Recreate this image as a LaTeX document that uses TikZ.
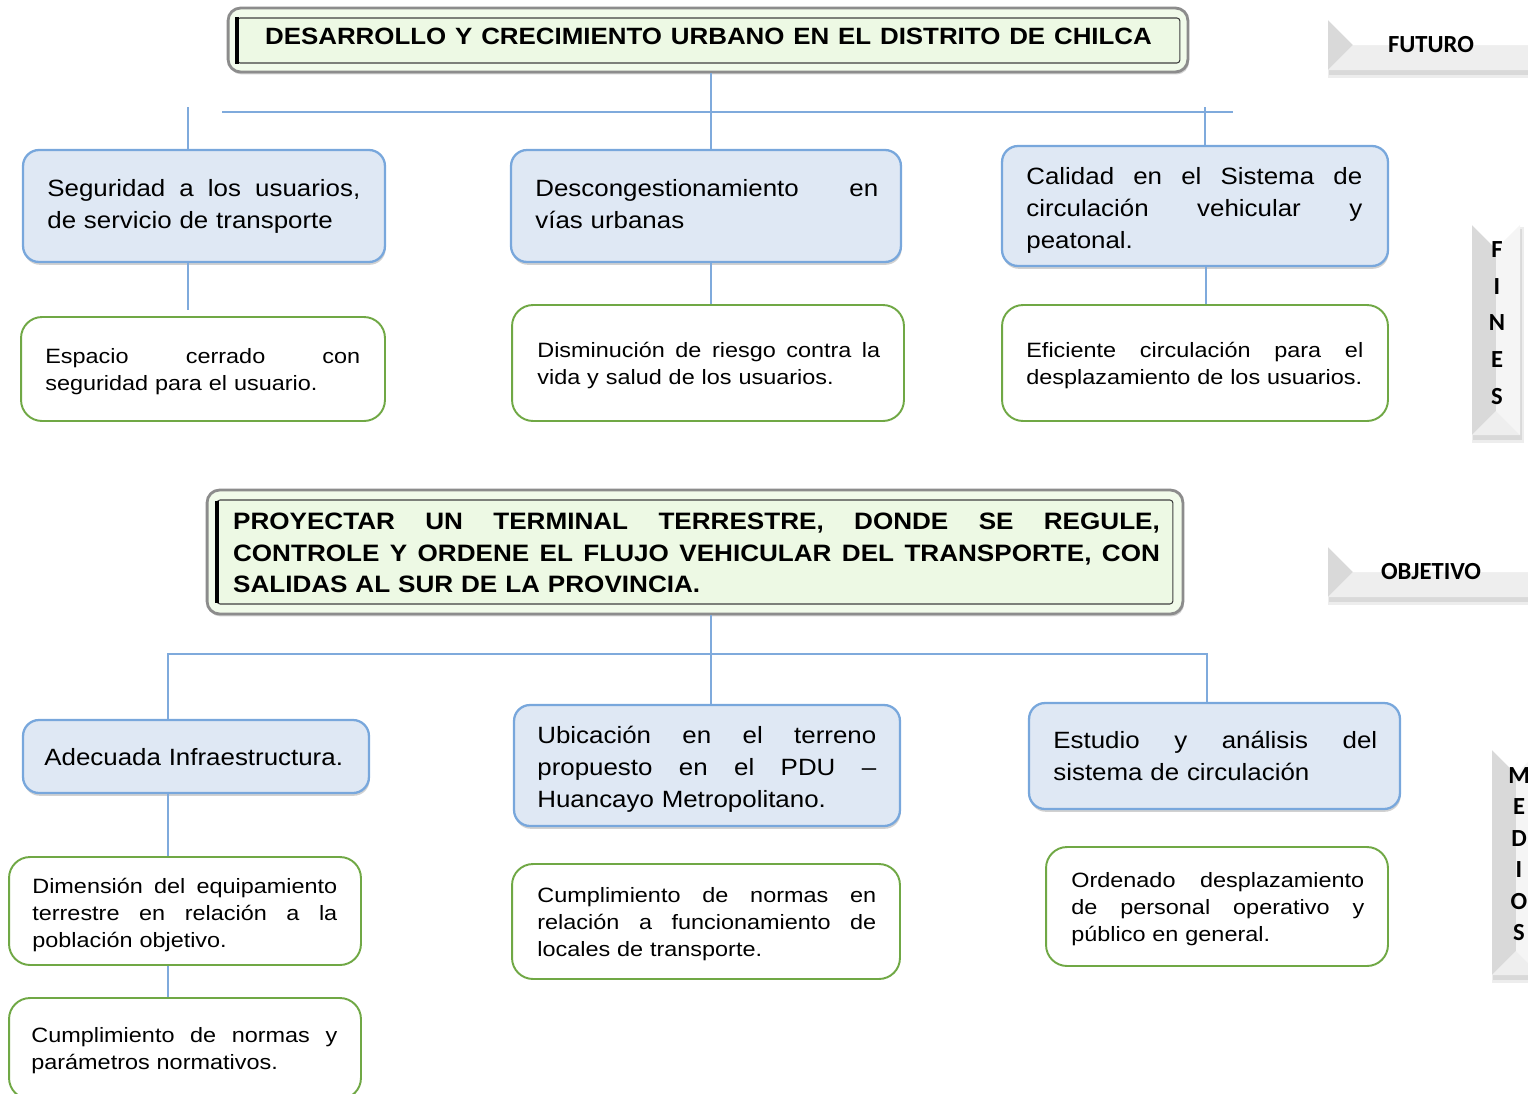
\documentclass[tikz,border=0pt]{standalone}
\usepackage{fontspec}
\setmainfont{Liberation Sans}[FakeStretch=1.1]
\newfontfamily\gfont{Liberation Sans}[FakeStretch=1.13]
\newfontfamily\sfont{Carlito}
\usetikzlibrary{shadows,calc}
\definecolor{connc}{HTML}{7FAADC}
\definecolor{bluefill}{HTML}{DFE8F4}
\definecolor{blueline}{HTML}{78A7DC}
\definecolor{greenline}{HTML}{70A845}
\definecolor{titlefill}{HTML}{F1FBEA}
\definecolor{titleinner}{HTML}{EDF9E4}
\newcommand\jl[2]{{\spaceskip=0pt\xspaceskip=0pt\makebox[#1][s]{#2}}}
\newcommand\bevelbox[5]{%
  \fill[black!35,opacity=0.35] (#1+1,#2+4) rectangle (#3+2,#4+5);
  \fill[black!20,opacity=0.35] (#1,#2+2) rectangle (#3+4,#4+8);
  \fill[gray!4] (#1,#2) rectangle (#3,#4);
  \fill[gray!30] (#1,#2) -- (#1+#5,#2+#5) -- (#1+#5,#4-#5) -- (#1,#4) -- cycle;
  \fill[gray!13] (#1,#4) -- (#1+#5,#4-#5) -- (#3-#5,#4-#5) -- (#3,#4) -- cycle;
  \fill[white] (#1,#2) -- (#1+#5,#2+#5) -- (#3-#5,#2+#5) -- (#3,#2) -- cycle;
  \fill[gray!8] (#3,#2) -- (#3-#5,#2+#5) -- (#3-#5,#4-#5) -- (#3,#4) -- cycle;
}
\hyphenpenalty=10000
\exhyphenpenalty=10000
\begin{document}
\begin{tikzpicture}[x=0.02cm,y=-0.02cm,
  bbox/.style={draw=blueline, line width=1.3pt, fill=bluefill, rounded corners=0.32cm, inner sep=0pt,
    drop shadow={shadow xshift=0.4pt, shadow yshift=-1.6pt, opacity=0.3, fill=black!60}},
  btext/.style={anchor=north west, inner sep=0pt, align=left, text width=9cm,
    font=\fontsize{13.4}{18.1}\selectfont},
  gbox/.style={draw=greenline, line width=1.1pt, fill=white, rounded corners=0.42cm, inner sep=0pt},
  gtext/.style={anchor=north west, inner sep=0pt, align=left, text width=9cm,
    font=\gfont\fontsize{11.8}{15.3}\selectfont},
  conn/.style={draw=connc, line width=0.75pt},
  outerframe/.style={draw=black!45, line width=1.6pt, fill=titlefill, rounded corners=0.25cm,
    inner sep=0pt, drop shadow={shadow xshift=0.6pt, shadow yshift=-1.4pt, opacity=0.3, fill=black!60}},
  innerframe/.style={draw=black!75, line width=0.6pt, fill=titleinner, rounded corners=0.06cm, inner sep=0pt},
  sidelabel/.style={font=\sfont\bfseries\fontsize{14}{16}\selectfont, inner sep=0pt}
]
\useasboundingbox (0,0) rectangle (1528,1093);
\clip (0,0) rectangle (1528,1093);

% ---------- title ----------
\node[outerframe, minimum width=19.2cm, minimum height=1.28cm] (Tout) at (708,40) {};
\node[innerframe, minimum width=18.86cm, minimum height=0.9cm] (Tin) at (708.5,40.5) {};
\draw[line width=2.2pt, black] (Tin.north west) -- (Tin.south west);
\node[inner sep=0pt, font=\bfseries\fontsize{13.4}{16}\selectfont] (Ttext) at (708.5,36)
  {\jl{17.74cm}{DESARROLLO Y CRECIMIENTO URBANO EN EL DISTRITO DE CHILCA}};

% ---------- fines ----------
\node[bbox, minimum width=7.24cm, minimum height=2.24cm] (B1) at (204,206) {};
\node[btext] (B1t) at (47,174) {\strut\jl{6.26cm}{Seguridad a los usuarios,}\\de servicio de transporte};
\node[bbox, minimum width=7.80cm, minimum height=2.24cm] (B2) at (706,206) {};
\node[btext] (B2t) at (535,174) {\strut\jl{6.86cm}{Descongestionamiento en}\\vías urbanas};
\node[bbox, minimum width=7.72cm, minimum height=2.40cm] (B3) at (1195,206) {};
\node[btext] (B3t) at (1026,162) {\strut\jl{6.72cm}{Calidad en el Sistema de}\\\jl{6.72cm}{circulación vehicular y}\\peatonal.};

\node[gbox, minimum width=7.28cm, minimum height=2.08cm] (G1) at (203,369) {};
\node[gtext] (G1t) at (45,344.4) {\strut\jl{6.30cm}{Espacio cerrado con}\\seguridad para el usuario.};
\node[gbox, minimum width=7.84cm, minimum height=2.32cm] (G2) at (708,363) {};
\node[gtext] (G2t) at (537,338.4) {\strut\jl{6.86cm}{Disminución de riesgo contra la}\\vida y salud de los usuarios.};
\node[gbox, minimum width=7.72cm, minimum height=2.32cm] (G3) at (1195,363) {};
\node[gtext] (G3t) at (1026,338.4) {\strut\jl{6.74cm}{Eficiente circulación para el}\\desplazamiento de los usuarios.};

% ---------- objective ----------
\node[outerframe, minimum width=19.52cm, minimum height=2.48cm] (Oout) at (695,552) {};
\node[innerframe, minimum width=19.12cm, minimum height=2.08cm] (Oin) at (695,552) {};
\draw[line width=2.2pt, black] ($(Oin.north west)+(0,2)$) -- ($(Oin.south west)+(0,-2)$);
\node[inner sep=0pt, text width=18.9cm, align=left, font=\bfseries\fontsize{13.5}{18.1}\selectfont] (Otext) at (705.5,553)
  {\jl{18.54cm}{PROYECTAR UN TERMINAL TERRESTRE, DONDE SE REGULE,}\\
   \jl{18.54cm}{CONTROLE Y ORDENE EL FLUJO VEHICULAR DEL TRANSPORTE, CON}\\
   SALIDAS AL SUR DE LA PROVINCIA.};

% ---------- medios ----------
\node[bbox, minimum width=6.92cm, minimum height=1.46cm] (B4) at (196,756.5) {};
\node[btext] (B4t) at (44,743) {\strut Adecuada Infraestructura.};
\node[bbox, minimum width=7.72cm, minimum height=2.42cm] (B5) at (707,765.5) {};
\node[btext] (B5t) at (537,721) {\strut\jl{6.78cm}{Ubicación en el terreno}\\\jl{6.78cm}{propuesto en el PDU –}\\Huancayo Metropolitano.};
\node[bbox, minimum width=7.42cm, minimum height=2.12cm] (B6) at (1214.5,756) {};
\node[btext] (B6t) at (1053,726) {\strut\jl{6.48cm}{Estudio y análisis del}\\sistema de circulación};

\node[gbox, minimum width=7.04cm, minimum height=2.16cm] (G4) at (185,911) {};
\node[gtext] (G4t) at (32,874.4) {\strut\jl{6.10cm}{Dimensión del equipamiento}\\\jl{6.10cm}{terrestre en relación a la}\\población objetivo.};
\node[gbox, minimum width=7.76cm, minimum height=2.30cm] (G5) at (706,921.5) {};
\node[gtext] (G5t) at (537,883.4) {\strut\jl{6.78cm}{Cumplimiento de normas en}\\\jl{6.78cm}{relación a funcionamiento de}\\locales de transporte.};
\node[gbox, minimum width=6.84cm, minimum height=2.38cm] (G6) at (1217,906.5) {};
\node[gtext] (G6t) at (1071,868.4) {\strut\jl{5.86cm}{Ordenado desplazamiento}\\\jl{5.86cm}{de personal operativo y}\\público en general.};
\node[gbox, minimum width=7.04cm, minimum height=2.02cm] (G7) at (185,1048.5) {};
\node[gtext] (G7t) at (31,1023.4) {\strut\jl{6.12cm}{Cumplimiento de normas y}\\parámetros normativos.};

% ---------- connectors (top) ----------
\coordinate (hl1) at (222,112);
\coordinate (hr1) at (1233,112);
\coordinate (vt1) at (188,107);
\coordinate (vt1e) at (188,310);
\coordinate (vt2) at (711,112);
\coordinate (vt3) at (1205,107);
\coordinate (vt3b) at (1206,300);
\draw[conn] (hl1) -- (hr1);
\draw[conn] (vt1) -- (vt1 |- B1.north);
\draw[conn] (vt2 |- Tout.south) -- (vt2 |- B2.north);
\draw[conn] (vt3) -- (vt3 |- B3.north);
\draw[conn] (vt1 |- B1.south) -- (vt1e);
\draw[conn] (vt2 |- B2.south) -- (vt2 |- G2.north);
\draw[conn] (vt3b |- B3.south) -- (vt3b |- G3.north);

% ---------- connectors (bottom) ----------
\coordinate (hb) at (168,654);
\coordinate (hbr) at (1207,654);
\coordinate (vb) at (711,654);
\draw[conn] (hb |- B4.north) -- (hb) -- (hbr) -- (hbr |- B6.north);
\draw[conn] (vb |- Oout.south) -- (vb |- B5.north);
\draw[conn] (hb |- B4.south) -- (hb |- G4.north);
\draw[conn] (hb |- G4.south) -- (hb |- G7.north);

% ---------- side labels ----------
\bevelbox{1328}{20}{1560}{70}{25}
\node[sidelabel] (futuro) at (1431,45) {FUTURO};
\bevelbox{1328}{547}{1560}{597}{25}
\node[sidelabel] (objetivo) at (1431,572) {OBJETIVO};
\bevelbox{1472}{225}{1520}{435}{24}
\node[sidelabel, align=center, font=\sfont\bfseries\fontsize{14}{21}\selectfont] (fines) at (1497,323) {F\\I\\N\\E\\S};
\bevelbox{1492}{750}{1540}{975}{24}
\node[sidelabel, align=center, font=\sfont\bfseries\fontsize{14}{17.9}\selectfont] (medios) at (1519,854) {M\\E\\D\\I\\O\\S};
\end{tikzpicture}
\end{document}
